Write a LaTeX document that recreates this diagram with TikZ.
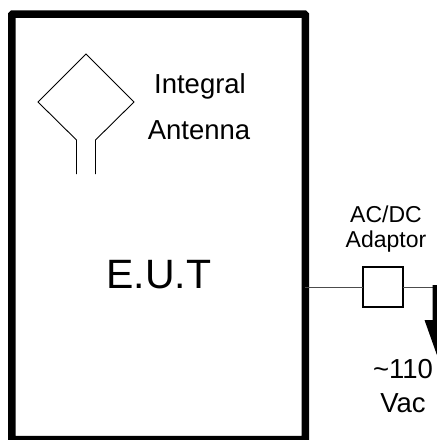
\documentclass[tikz,border=0pt]{standalone}
\usepackage{fontspec}
\setmainfont{Liberation Sans}
\tikzset{
  every node/.style={outer sep=0pt},
  biglabel/.style={inner sep=0pt,anchor=base,font=\fontsize{27.5}{30}\selectfont},
  smalllabel/.style={inner sep=0pt,anchor=base,font=\fontsize{23}{26}\selectfont},
  antenna/.style={draw=black,line width=0.9pt,line join=miter},
  wire/.style={draw=black!70,line width=1pt},
}
\begin{document}
\begin{tikzpicture}[x=1pt,y=-1pt]
\useasboundingbox (0,0) rectangle (437,440);
\clip (0,0) rectangle (437,440);
\node[draw=black,line width=7.5pt,rounded corners=1pt,minimum width=293.5pt,minimum height=425.5pt,inner sep=0pt,anchor=north west] (eut) at (11.75,14) {};
\node[draw=black,line width=2pt,minimum width=40.5pt,minimum height=40pt,inner sep=0pt] (adaptor) at (382.75,287) {};
\coordinate (corner) at (437,287);
\draw[wire] (eut.east |- adaptor.west) -- (adaptor.west);
\draw[wire] (adaptor.east) -- (corner);
\draw[antenna] (76.5,174) -- (76.5,140) -- (38,102) -- (86,54) -- (134,102) -- (95.5,140) -- (95.5,174);
\fill[black] (432.5,285) -- (438,285) -- (438,358) -- (424.5,320) -- (432.5,320) -- cycle;
\node[biglabel] (integral) at (200,93) {Integral};
\node[biglabel] (antennatext) at (199,139) {Antenna};
\node[inner sep=0pt,anchor=base,font=\fontsize{41}{44}\selectfont] (eutlabel) at (159,288) {E.U.T};
\node[smalllabel] (acdc) at (386,222) {AC/DC};
\node[smalllabel] (adaptortext) at (386,247) {Adaptor};
\node[biglabel] (v110) at (403,378) {\textasciitilde110};
\node[biglabel] (vac) at (403,412) {Vac};
\end{tikzpicture}
\end{document}
